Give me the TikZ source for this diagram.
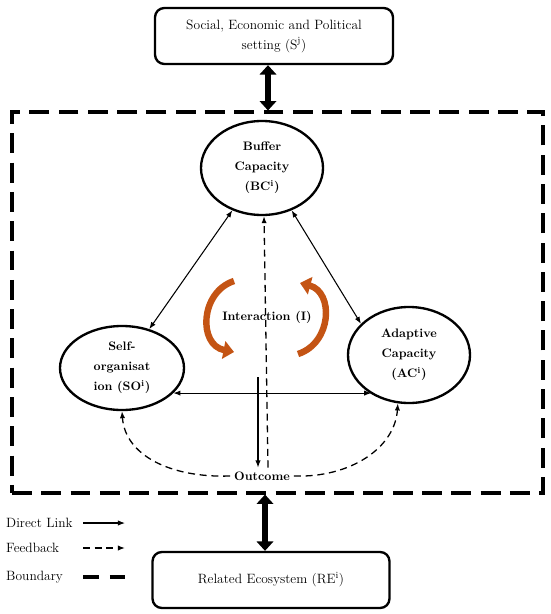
\documentclass[tikz,border=0pt]{standalone}
\usepackage{tikz}
\usetikzlibrary{calc}
\usetikzlibrary{arrows.meta}
\usetikzlibrary{shapes.geometric}

\definecolor{swirlorange}{RGB}{196,84,20}

\tikzset{
capnode/.style={ellipse, draw, line width=2pt, align=center, inner sep=0pt, font=\fontsize{10.5}{17}\selectfont\bfseries},
boxnode/.style={rectangle, rounded corners=8pt, draw, line width=2pt, align=center, minimum width=7.14cm, minimum height=1.68cm, font=\fontsize{11.5}{17}\selectfont},
sysbox/.style={rectangle, draw, line width=2.6pt, dash pattern=on 17pt off 8pt, minimum width=15.93cm, minimum height=11.43cm},
link/.style={line width=0.9pt},
fback/.style={line width=1.1pt, dash pattern=on 6pt off 4pt},
bound/.style={line width=2.6pt, dash pattern=on 14pt off 9pt},
lgdirect/.style={link,->},
lgfeed/.style={fback,->},
lgbound/.style={bound},
swirl/.style={line width=5.5pt, swirlorange, -{Triangle[length=9pt,width=15pt]}},
bigarrow/.style={line width=4.5pt, {Triangle[length=8pt,width=14pt]}-{Triangle[length=8pt,width=14pt]}}
}

\begin{document}
\begin{tikzpicture}[x=0.03cm, y=-0.03cm, >={Latex[length=6pt,width=4.5pt]}, font=\fontsize{10.5}{17}\selectfont]
\useasboundingbox (0,0) rectangle (550,614);

% setting and ecosystem
\node[boxnode] (soc) at (274,36) {Social, Economic and Political\\setting (S\textsuperscript{j})};
\node[boxnode, minimum width=7.11cm] (rel) at (271,580) {Related Ecosystem (RE\textsuperscript{i})};
\node[sysbox] (sys) at (277.5,302.5) {};

% capacities
\node[capnode, minimum width=3.66cm, minimum height=2.82cm] (buf) at (262,168) {Buffer\\Capacity\\(BC\textsuperscript{i})};
\node[capnode, minimum width=3.72cm, minimum height=2.52cm] (so) at (122,368) {Self-\\organisat\\ion (SO\textsuperscript{i})};
\node[capnode, minimum width=3.66cm, minimum height=2.88cm] (ac) at (409,355) {Adaptive\\Capacity\\(AC\textsuperscript{i})};

\node[font=\fontsize{10.5}{13}\selectfont\bfseries] (inter) at (267,317) {Interaction (I)};
\node[font=\fontsize{10.5}{13}\selectfont\bfseries] (out) at (262,476) {Outcome};

% direct links
\draw[link,<->] (buf.235) -- (so.55);
\draw[link,<->] (buf.305) -- (ac.147);
\draw[link,<->] (so.-26) -- (so.-26 -| ac.226);
\coordinate (drop) at (258,377);
\draw[link,->] (drop) -- (drop |- out.north);

% feedback
\draw[fback,->] ($(out.north)+(6,0)$) -- ($(buf.south)+(2,0)$);
\draw[fback,->] (out.west) .. controls (170,478) and (125,455) .. (so.south);
\draw[fback,->] (out.east) .. controls (350,478) and (395,448) .. (ac.257);

% interaction
\draw[swirl] (234,281) .. controls (200,292) and (198,345) .. (234,352);
\draw[swirl] (298,354) .. controls (332,343) and (334,292) .. (300,283);

% outside links
\draw[bigarrow] ($(soc.south)+(-6,0)$) -- ($(soc.south |- sys.north)+(-6,0)$);
\draw[bigarrow] ($(rel.north |- sys.south)+(-6,0)$) -- ($(rel.north)+(-6,0)$);

% legend
\foreach \y/\txt/\sty in {523/Direct Link/lgdirect, 548/Feedback/lgfeed, 577/Boundary/lgbound}
{
\node[anchor=west, inner sep=0pt, font=\fontsize{11.5}{14}\selectfont] (lg\y) at (6,\y) {\txt};
\coordinate (lga\y) at (83,\y);
\coordinate (lgb\y) at (125,\y);
\draw[\sty] (lga\y) -- (lgb\y);
}

\end{tikzpicture}
\end{document}
